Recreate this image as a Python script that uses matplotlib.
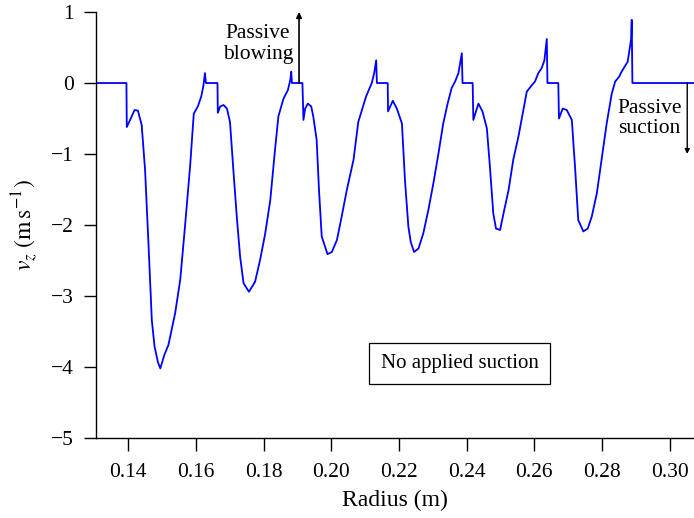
import matplotlib
matplotlib.use("Agg")
import matplotlib.pyplot as plt

plt.rcParams['font.family'] = ['Liberation Serif', 'DejaVu Serif']
plt.rcParams['mathtext.fontset'] = 'stix'

# radius (m) and axial velocity v_z (m/s)
radius = [0.1305, 0.1395, 0.1396, 0.1403, 0.1419, 0.1429, 0.1440, 0.1450, 0.1460,
          0.1470, 0.1478, 0.1488, 0.1495, 0.1507, 0.1519, 0.1539, 0.1554, 0.1568,
          0.1583, 0.1594, 0.1606, 0.1616, 0.1622, 0.1627, 0.1630,
          0.1664, 0.1665, 0.1672, 0.1682, 0.1692, 0.1701, 0.1711, 0.1721, 0.1731,
          0.1741, 0.1757, 0.1775, 0.1790, 0.1805, 0.1820, 0.1834, 0.1844, 0.1859,
          0.1872, 0.1879, 0.1882, 0.1884,
          0.1915, 0.1918, 0.1923, 0.1931, 0.1941, 0.1947, 0.1957, 0.1964, 0.1972,
          0.1989, 0.2002, 0.2017, 0.2031, 0.2046, 0.2066, 0.2080, 0.2103, 0.2120,
          0.2127, 0.2133, 0.2135,
          0.2167, 0.2168, 0.2182, 0.2194, 0.2209, 0.2218, 0.2228, 0.2235, 0.2245,
          0.2258, 0.2272, 0.2287, 0.2302, 0.2317, 0.2331, 0.2344, 0.2356, 0.2366,
          0.2376, 0.2386, 0.2388,
          0.2418, 0.2420, 0.2435, 0.2447, 0.2460, 0.2469, 0.2479, 0.2487, 0.2499,
          0.2509, 0.2524, 0.2538, 0.2553, 0.2568, 0.2578, 0.2593, 0.2602, 0.2612,
          0.2622, 0.2630, 0.2637, 0.2639,
          0.2671, 0.2673, 0.2684, 0.2696, 0.2711, 0.2721, 0.2730, 0.2745, 0.2758,
          0.2770, 0.2785, 0.2799, 0.2814, 0.2829, 0.2839, 0.2851, 0.2858, 0.2876,
          0.2886, 0.2888, 0.2890, 0.3072]
vz = [0.0, 0.0, -0.62, -0.55, -0.38, -0.39, -0.59, -1.22, -2.25,
      -3.34, -3.71, -3.93, -4.02, -3.83, -3.69, -3.24, -2.77, -2.02,
      -1.18, -0.43, -0.33, -0.19, -0.05, 0.14, 0.0,
      0.0, -0.42, -0.33, -0.31, -0.36, -0.55, -1.23, -1.88, -2.45,
      -2.82, -2.94, -2.80, -2.49, -2.12, -1.65, -0.94, -0.47, -0.22,
      -0.10, 0.04, 0.16, 0.0,
      0.0, -0.52, -0.36, -0.29, -0.33, -0.47, -0.80, -1.51, -2.16,
      -2.41, -2.38, -2.21, -1.88, -1.51, -1.08, -0.55, -0.19, 0.0,
      0.14, 0.32, 0.0,
      0.0, -0.40, -0.25, -0.36, -0.57, -1.37, -2.02, -2.24, -2.38,
      -2.33, -2.12, -1.79, -1.41, -0.99, -0.57, -0.29, -0.07, 0.02,
      0.14, 0.42, 0.0,
      0.0, -0.52, -0.29, -0.40, -0.64, -1.18, -1.84, -2.05, -2.07,
      -1.84, -1.51, -1.08, -0.76, -0.38, -0.12, -0.03, 0.02, 0.14,
      0.21, 0.32, 0.62, 0.0,
      0.0, -0.50, -0.36, -0.38, -0.52, -1.22, -1.93, -2.09, -2.05,
      -1.88, -1.55, -1.08, -0.57, -0.15, 0.02, 0.09, 0.16, 0.30,
      0.61, 0.89, 0.0, 0.0]

xticks = [0.14, 0.16, 0.18, 0.20, 0.22, 0.24, 0.26, 0.28, 0.30]
xticklabels = ['0.14', '0.16', '0.18', '0.20', '0.22', '0.24', '0.26', '0.28', '0.30']
yticks = [1, 0, -1, -2, -3, -4, -5]

fig = plt.figure(figsize=(6.94, 5.18), dpi=100)
ax = fig.add_axes([0.1383, 0.1544, 0.8617, 0.8224])

ax.plot(radius, vz, color='#0000ff', lw=1.3)

ax.set_xlim(0.1305, 0.3072)
ax.set_ylim(-5, 1)
ax.set_xticks(xticks)
ax.set_xticklabels(xticklabels)
ax.set_yticks(yticks)

for s in ['top', 'right']:
    ax.spines[s].set_visible(False)
for s in ['left', 'bottom']:
    ax.spines[s].set_linewidth(1.0)
ax.tick_params(direction='out', length=9, width=1.0, labelsize=15.5, pad=7)
ax.tick_params(axis='x', pad=9)

ax.set_xlabel('Radius (m)', fontsize=17, labelpad=6)
ax.set_ylabel(r'$v_z\ (\mathrm{m\,s^{-1}})$', fontsize=17, labelpad=8)

# passive blowing / suction arrows
ax.annotate('', xy=(0.1905, 1.0), xytext=(0.1905, 0.0),
            arrowprops=dict(arrowstyle='-|>', color='k', lw=1.2, mutation_scale=8,
                            shrinkA=0, shrinkB=0), annotation_clip=False)
ax.text(0.1783, 0.55, 'Passive\nblowing', fontsize=15.5, ha='center', va='center',
        linespacing=1.1)
ax.annotate('', xy=(0.3052, -1.0), xytext=(0.3052, 0.0),
            arrowprops=dict(arrowstyle='-|>', color='k', lw=1.0, mutation_scale=7,
                            shrinkA=0, shrinkB=0), annotation_clip=False)
ax.text(0.2941, -0.5, 'Passive\nsuction', fontsize=15.5, ha='center', va='center',
        linespacing=1.1)

ax.text(0.2379, -3.95, 'No applied suction', fontsize=15, ha='center', va='center',
        bbox=dict(boxstyle='square,pad=0.55', fc='white', ec='k', lw=0.9))

fig.savefig('out.png', dpi=100)
